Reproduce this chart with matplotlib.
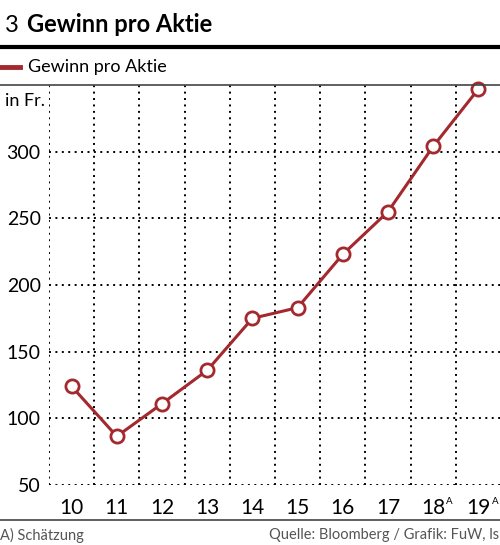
import matplotlib
matplotlib.use("Agg")
import matplotlib.pyplot as plt
from matplotlib.lines import Line2D

# data
years = ["10", "11", "12", "13", "14", "15", "16", "17", "18", "19"]
estimate = [False, False, False, False, False, False, False, False, True, True]
eps = [124, 86.5, 111, 136, 175, 183, 223, 255, 304, 347]
yticks = [50, 100, 150, 200, 250, 300]

red = "#a3292f"
font = ["Lato", "DejaVu Sans"]
plt.rcParams["font.family"] = font

fig = plt.figure(figsize=(5.0, 5.45), dpi=100)
ax = fig.add_axes([49 / 500, 60 / 545, 452 / 500, 400 / 545])

x = range(len(eps))
ax.plot(x, eps, color=red, lw=2.2, marker="o", ms=9.5, mfc="white",
        mec=red, mew=2.0, zorder=5, clip_on=False)

ax.set_xlim(-0.5, len(eps) - 0.5)
ax.set_ylim(50, 350)
for s in ax.spines.values():
    s.set_visible(False)

dots = dict(color="black", lw=1.4, ls=(0, (1, 2.3)), zorder=1)
for v in yticks:
    ax.axhline(v, **dots)
for i in range(len(eps)):
    ax.axvline(i - 0.5, **dots)

ax.set_yticks(yticks)
ax.set_yticklabels([str(v) for v in yticks])
ax.set_xticks(list(x))
ax.set_xticklabels(years)
ax.tick_params(length=0, labelsize=15)
ax.tick_params(axis="x", pad=9)
ax.tick_params(axis="y", labelsize=14, pad=6)

# "A" marks for estimated years
for i, e in enumerate(estimate):
    if e:
        ax.annotate("A", xy=(i, 0), xycoords=("data", "axes fraction"),
                    xytext=(9.5, -9), textcoords="offset points",
                    fontsize=7, ha="left", va="top")

# header
fig.text(5 / 500, 1 - 25 / 545, "3", fontsize=17, va="center", ha="left")
fig.text(27 / 500, 1 - 25 / 545, "Gewinn pro Aktie", fontsize=17,
         fontweight="bold", va="center", ha="left")
fig.add_artist(Line2D([0, 1], [1 - 47 / 545] * 2, color="black", lw=3))
fig.add_artist(Line2D([0, 20 / 500], [1 - 67 / 545] * 2, color=red, lw=3.5))
fig.text(28 / 500, 1 - 67 / 545, "Gewinn pro Aktie", fontsize=13,
         va="center", ha="left")
fig.add_artist(Line2D([0, 1], [1 - 85 / 545] * 2, color="#444444", lw=1.2))
fig.text(5 / 500, 1 - 101 / 545, "in Fr.", fontsize=13, va="center", ha="left")

# footer
fig.add_artist(Line2D([0, 1], [1 - 520 / 545] * 2, color="#444444", lw=1.2))
fig.text(0, 1 - 535 / 545, "A) Schätzung", fontsize=10.5, color="#555555",
         va="center", ha="left")
fig.text(0.998, 1 - 535 / 545, "Quelle: Bloomberg / Grafik: FuW, ls", fontsize=10.5,
         color="#555555", va="center", ha="right")

fig.savefig("out.png", dpi=100)
